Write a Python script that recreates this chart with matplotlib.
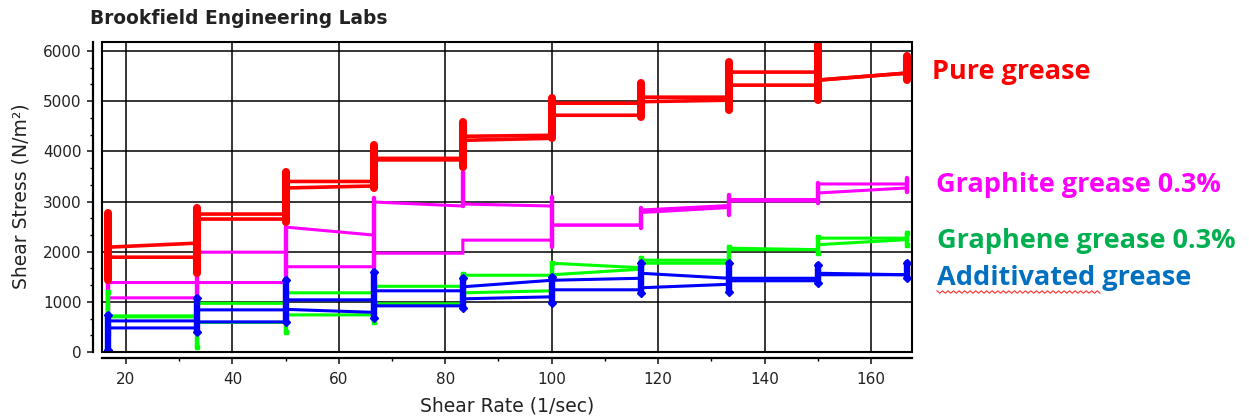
import numpy as np
import matplotlib
matplotlib.use("Agg")
import matplotlib.pyplot as plt
from matplotlib.patches import Rectangle
from matplotlib.ticker import MultipleLocator

# ---------------- data ----------------
shear_rate = [16.7, 33.3, 50.0, 66.7, 83.3, 100.0, 116.7, 133.3, 150.0, 166.7]

# each branch: (stress at start, stress at end) of the plateau between two shear rates
pure_a = [(1890, 1890), (2650, 2650), (3270, 3310), (3830, 3830), (4220, 4260),
          (4720, 4720), (4990, 5020), (5320, 5320), (5420, 5560)]
pure_b = [(2090, 2170), (2750, 2750), (3400, 3400), (3860, 3860), (4300, 4320),
          (4960, 4960), (5080, 5080), (5580, 5580), (5420, 5560)]
pure_spike = [(1430, 2770), (1570, 2870), (2590, 3590), (3270, 4120), (3690, 4580),
              (4260, 5060), (4680, 5360), (4820, 5780), (5020, 6150), (5420, 5900)]

graphite_a = [(1080, 1080), (1990, 1990), (1700, 1700), (1970, 1970), (2230, 2230),
              (2530, 2530), (2780, 2880), (3010, 3010), (3170, 3270)]
graphite_b = [(1385, 1385), (1385, 1385), (2490, 2330), (2990, 2910), (2950, 2910),
              (2530, 2530), (2830, 2920), (3040, 3040), (3350, 3350)]
graphite_spike = [(380, 1420), (1075, 2030), (1390, 2500), (1670, 3070), (2910, 3590),
                  (2090, 3090), (2470, 2870), (2730, 3130), (2970, 3370), (3190, 3470)]

graphene_a = [(720, 720), (970, 970), (1180, 1180), (1310, 1310), (1530, 1530),
              (1770, 1680), (1830, 1830), (2070, 2040), (2270, 2270)]
graphene_b = [(700, 700), (590, 590), (740, 740), (960, 960), (1180, 1220),
              (1540, 1650), (1770, 1770), (2040, 2040), (2140, 2240)]
graphene_spike = [(380, 1200), (100, 1000), (400, 1200), (600, 1390), (1150, 1560),
                  (1430, 1770), (1670, 1870), (1770, 2090), (1970, 2290), (2130, 2370)]

additive_a = [(620, 620), (840, 840), (1040, 1040), (1220, 1220), (1300, 1430),
              (1430, 1470), (1570, 1470), (1470, 1470), (1570, 1540)]
additive_b = [(480, 480), (600, 600), (850, 790), (920, 920), (1060, 1100),
              (1240, 1240), (1280, 1350), (1420, 1420), (1540, 1540)]
additive_spike = [(40, 740), (400, 1080), (600, 1430), (680, 1600), (880, 1470),
                  (980, 1490), (1170, 1770), (1200, 1770), (1370, 1730), (1470, 1770)]

series_names = ["Pure grease", "Graphite grease 0.3%", "Graphene grease 0.3%", "Additivated grease"]
x_ticks = [20, 40, 60, 80, 100, 120, 140, 160]
y_ticks = [0, 1000, 2000, 3000, 4000, 5000, 6000]

# ---------------- figure ----------------
fig = plt.figure(figsize=(12.49, 4.18), dpi=100)
W, H = 1249, 418
ax = fig.add_axes([102 / W, 1 - 352 / H, 810 / W, 310 / H])
ax.set_xlim(15.5, 167.7)
ax.set_ylim(0, 6180)


def branch_path(segs):
    xs, ys = [], []
    for i, (s, e) in enumerate(segs):
        xs += [shear_rate[i], shear_rate[i + 1]]
        ys += [s, e]
    return xs, ys


def draw_series(a, b, spikes, color, lw, spike_lw, marker=None, ms=0):
    for br in (a, b):
        xs, ys = branch_path(br)
        ax.plot(xs, ys, color=color, lw=lw, solid_joinstyle='miter', zorder=3)
    lo = [s[0] for s in spikes]
    hi = [s[1] for s in spikes]
    ax.vlines(shear_rate, lo, hi, colors=color, lw=spike_lw, zorder=3,
              capstyle='round')
    if marker:
        ax.plot(shear_rate, lo, ls='none', marker=marker, ms=ms, color=color, zorder=3)
        ax.plot(shear_rate, hi, ls='none', marker=marker, ms=ms, color=color, zorder=3)


draw_series(graphite_a, graphite_b, graphite_spike, '#FF00FF', 2.2, 3.2)
draw_series(graphene_a, graphene_b, graphene_spike, '#00FF00', 2.2, 3.2, 's', 3.5)
draw_series(additive_a, additive_b, additive_spike, '#0000FF', 2.2, 4.6, 'D', 4)
draw_series(pure_a, pure_b, pure_spike, '#FF0000', 2.6, 5.8)

# grid / frame / detached axes
ax.set_xticks(x_ticks)
ax.xaxis.set_minor_locator(MultipleLocator(10))
ax.set_yticks(y_ticks)
ax.yaxis.set_minor_locator(MultipleLocator(1000 / 3))
ax.grid(True, which='major', color='black', lw=1.1, zorder=1)
ax.set_axisbelow(True)
for s in ('top', 'right'):
    ax.spines[s].set_visible(False)
ax.spines['left'].set_position(('outward', 6.5))
ax.spines['bottom'].set_position(('outward', 4.5))
for s in ('left', 'bottom'):
    ax.spines[s].set_linewidth(1.6)
ax.add_patch(Rectangle((0, 0), 1, 1, transform=ax.transAxes, fill=False,
                       ec='black', lw=1.5, zorder=4, clip_on=False))
ax.tick_params(which='major', direction='out', length=4, width=1.2,
               labelsize=11, colors='#222222')
ax.tick_params(axis='x', which='major', pad=6)
ax.tick_params(axis='y', which='major', pad=4)
ax.tick_params(which='minor', direction='out', length=2.5, width=1.0)
for lab in ax.get_xticklabels() + ax.get_yticklabels():
    lab.set_fontfamily('DejaVu Sans')

fig.text(507 / W, 1 - 406 / H, 'Shear Rate (1/sec)', fontsize=13.5,
         fontfamily='DejaVu Sans', color='#222222', ha='center', va='center')
fig.text(21 / W, 1 - 196 / H, 'Shear Stress (N/m²)', fontsize=13.5,
         fontfamily='DejaVu Sans', color='#222222', ha='center', va='center',
         rotation=90)

fig.text(90 / W, 1 - 19 / H, 'Brookfield Engineering Labs', fontsize=13.4,
         fontweight='bold', fontfamily='DejaVu Sans', color='#222222',
         va='center', ha='left')

# right-hand labels
label_colors = ['#FF0000', '#FF00FF', '#00B050', '#0070C0']
label_pos = [(932, 72), (936, 185), (937, 241), (937, 278)]
for name, c, (px, py) in zip(series_names, label_colors, label_pos):
    fig.text(px / W, 1 - py / H, name, fontsize=19.5, fontweight='bold',
             fontfamily='Open Sans', color=c, va='center', ha='left')

# spell-check squiggle under "Additivated"
sq_x = np.linspace(937, 1100, 60)
sq_y = 292 + 1.2 * np.where(np.arange(60) % 2 == 0, -1, 1)
fig.add_artist(plt.Line2D(sq_x / W, 1 - sq_y / H, color='#FF3030', lw=0.8,
                          transform=fig.transFigure))

fig.savefig('out.png', dpi=100)
